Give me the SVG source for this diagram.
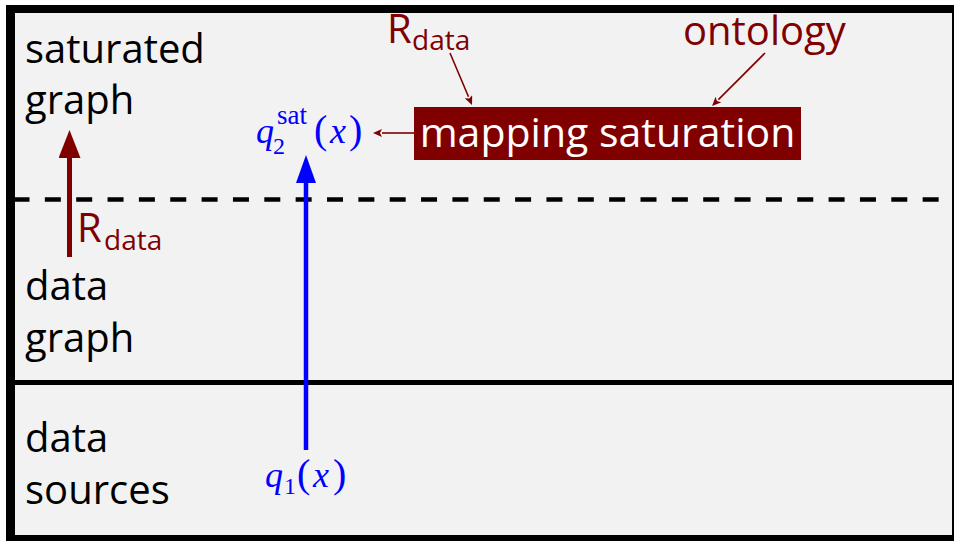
<svg xmlns="http://www.w3.org/2000/svg" width="954" height="541" viewBox="0 0 954 541">
  <defs>
    <style>
      .lbl { font-family: "Open Sans", "Liberation Sans", sans-serif; font-size: 40px; fill: #000; }
      .red { fill: #800000; }
      .sub { font-size: 28px; }
      .math { font-family: "Liberation Serif", "DejaVu Serif", serif; fill: #0000ff; font-size: 36px; }
      .par { font-size: 40px; font-style: normal; }
      .var { font-size: 36px; font-style: italic; }
      .idx { font-size: 24px; font-style: normal; }
      .sup { font-size: 27px; font-style: normal; }
      .thin { stroke: #800000; stroke-width: 1.6; fill: none; }
    </style>
    <marker id="thinHead" markerUnits="userSpaceOnUse" markerWidth="9" markerHeight="8" refX="0" refY="4" orient="auto">
      <path d="M0,0 L9,4 L0,8 L2,4 z" fill="#800000"/>
    </marker>
    <marker id="redHead" markerUnits="userSpaceOnUse" markerWidth="28" markerHeight="22" refX="0" refY="11" orient="auto">
      <path d="M0,0 L28,11 L0,22 z" fill="#800000"/>
    </marker>
    <marker id="blueHead" markerUnits="userSpaceOnUse" markerWidth="28" markerHeight="20" refX="0" refY="10" orient="auto">
      <path d="M0,0 L28,10 L0,20 z" fill="#0000ff"/>
    </marker>
  </defs>

  <!-- frame -->
  <rect x="0" y="0" width="954" height="541" fill="#ffffff"/>
  <rect x="6" y="5" width="948" height="536" fill="#000000"/>
  <rect x="15" y="13" width="937" height="522" fill="#f2f2f2"/>
  <rect x="15" y="380" width="937" height="5" fill="#000000"/>
  <line x1="13.5" y1="199.5" x2="952" y2="199.5" stroke="#000" stroke-width="4.5" stroke-dasharray="16 15.35"/>

  <g id="layer-saturated">
    <text class="lbl" x="25" y="63">saturated</text>
    <text class="lbl" x="25" y="114">graph</text>
  </g>
  <g id="layer-datagraph">
    <text class="lbl" x="25" y="300">data</text>
    <text class="lbl" x="25" y="352">graph</text>
  </g>
  <g id="layer-sources">
    <text class="lbl" x="25" y="452">data</text>
    <text class="lbl" x="25" y="504">sources</text>
  </g>

  <g id="rdata-left">
    <text class="lbl red" x="77" y="242">R<tspan class="sub" x="104" y="250">data</tspan></text>
  </g>
  <g id="rdata-top">
    <text class="lbl red" x="387" y="43">R<tspan class="sub" x="412" y="50">data</tspan></text>
  </g>
  <g id="ontology">
    <text class="lbl red" x="683" y="45">ontology</text>
  </g>
  <g id="mapping-saturation">
    <rect x="414" y="107" width="387" height="53" fill="#800000"/>
    <text class="lbl" x="607.5" y="147" text-anchor="middle" style="fill:#fff;font-size:41px">mapping saturation</text>
  </g>
  <g id="q2sat">
    <text class="math"><tspan class="var" x="256" y="143">q</tspan><tspan class="idx" x="273" y="154">2</tspan><tspan class="sup" x="277" y="124">sat</tspan><tspan class="par" x="314" y="143">(</tspan><tspan class="var" x="330" y="143">x</tspan><tspan class="par" x="349" y="143">)</tspan></text>
  </g>
  <g id="q1">
    <text class="math"><tspan class="var" x="265" y="487">q</tspan><tspan class="idx" x="284" y="494">1</tspan><tspan class="par" x="297" y="487">(</tspan><tspan class="var" x="313" y="487">x</tspan><tspan class="par" x="333" y="487">)</tspan></text>
  </g>

  <g id="connectors">
    <line x1="69.5" y1="257" x2="69.5" y2="158" stroke="#800000" stroke-width="5" marker-end="url(#redHead)"/>
    <line x1="306" y1="450" x2="306" y2="183" stroke="#0000ff" stroke-width="4.5" marker-end="url(#blueHead)"/>
    <line class="thin" x1="414" y1="133" x2="382" y2="133" marker-end="url(#thinHead)"/>
    <line class="thin" x1="450" y1="53" x2="468.5" y2="96.7" marker-end="url(#thinHead)"/>
    <line class="thin" x1="765" y1="53" x2="718.4" y2="99.6" marker-end="url(#thinHead)"/>
  </g>
</svg>
